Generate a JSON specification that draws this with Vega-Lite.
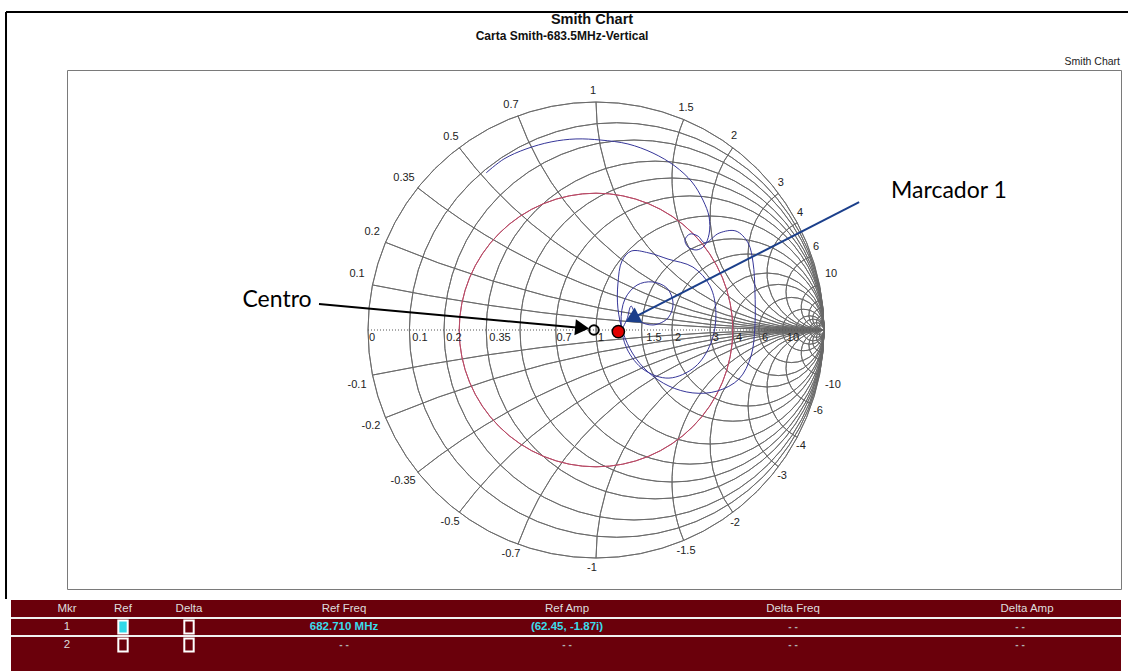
{
  "$schema": "https://vega.github.io/schema/vega-lite/v6.json",
  "autosize": {"type": "pad"},
  "padding": {"left": 4, "top": 10, "right": 0, "bottom": 0},
  "background": "white",
  "bounds": "flush",
  "spacing": 11,
  "config": {"font": "Liberation Sans"},
  "datasets": {
    "grid": [
      {"cx": 0, "cy": 0, "rad": 1, "t0": 0, "t1": 360},
      {"cx": 0.090909, "cy": 0, "rad": 0.909091, "t0": 0, "t1": 360},
      {"cx": 0.166667, "cy": 0, "rad": 0.833333, "t0": 0, "t1": 360},
      {"cx": 0.259259, "cy": 0, "rad": 0.740741, "t0": 0, "t1": 360},
      {"cx": 0.333333, "cy": 0, "rad": 0.666667, "t0": 0, "t1": 360},
      {"cx": 0.411765, "cy": 0, "rad": 0.588235, "t0": 0, "t1": 360},
      {"cx": 0.5, "cy": 0, "rad": 0.5, "t0": 0, "t1": 360},
      {"cx": 0.6, "cy": 0, "rad": 0.4, "t0": 0, "t1": 360},
      {"cx": 0.666667, "cy": 0, "rad": 0.333333, "t0": 0, "t1": 360},
      {"cx": 0.75, "cy": 0, "rad": 0.25, "t0": 0, "t1": 360},
      {"cx": 0.8, "cy": 0, "rad": 0.2, "t0": 0, "t1": 360},
      {"cx": 0.857143, "cy": 0, "rad": 0.142857, "t0": 0, "t1": 360},
      {"cx": 0.909091, "cy": 0, "rad": 0.090909, "t0": 0, "t1": 360},
      {"cx": 0.9375, "cy": 0, "rad": 0.0625, "t0": 0, "t1": 360},
      {"cx": 0.952381, "cy": 0, "rad": 0.047619, "t0": 0, "t1": 360},
      {"cx": 0.967742, "cy": 0, "rad": 0.032258, "t0": 0, "t1": 360},
      {"cx": 0.980392, "cy": 0, "rad": 0.019608, "t0": 0, "t1": 360},
      {"cx": 1, "cy": 10, "rad": 10, "t0": 180, "t1": 191.421},
      {"cx": 1, "cy": 5, "rad": 5, "t0": 180, "t1": 202.62},
      {"cx": 1, "cy": 2.857143, "rad": 2.857143, "t0": 180, "t1": 218.58},
      {"cx": 1, "cy": 2, "rad": 2, "t0": 180, "t1": 233.13},
      {"cx": 1, "cy": 1.428571, "rad": 1.428571, "t0": 180, "t1": 249.984},
      {"cx": 1, "cy": 1, "rad": 1, "t0": 180, "t1": 270},
      {"cx": 1, "cy": 0.666667, "rad": 0.666667, "t0": 180, "t1": 292.62},
      {"cx": 1, "cy": 0.5, "rad": 0.5, "t0": 180, "t1": 306.87},
      {"cx": 1, "cy": 0.333333, "rad": 0.333333, "t0": 180, "t1": 323.13},
      {"cx": 1, "cy": 0.25, "rad": 0.25, "t0": 180, "t1": 331.928},
      {"cx": 1, "cy": 0.166667, "rad": 0.166667, "t0": 180, "t1": 341.075},
      {"cx": 1, "cy": 0.1, "rad": 0.1, "t0": 180, "t1": 348.579},
      {"cx": 1, "cy": 0.066667, "rad": 0.066667, "t0": 180, "t1": 352.372},
      {"cx": 1, "cy": 0.05, "rad": 0.05, "t0": 180, "t1": 354.275},
      {"cx": 1, "cy": 0.033333, "rad": 0.033333, "t0": 180, "t1": 356.182},
      {"cx": 1, "cy": 0.02, "rad": 0.02, "t0": 180, "t1": 357.708},
      {"cx": 1, "cy": -10, "rad": 10, "t0": 348.579, "t1": 360},
      {"cx": 1, "cy": -5, "rad": 5, "t0": 337.38, "t1": 360},
      {"cx": 1, "cy": -2.857143, "rad": 2.857143, "t0": 321.42, "t1": 360},
      {"cx": 1, "cy": -2, "rad": 2, "t0": 306.87, "t1": 360},
      {"cx": 1, "cy": -1.428571, "rad": 1.428571, "t0": 290.016, "t1": 360},
      {"cx": 1, "cy": -1, "rad": 1, "t0": 270, "t1": 360},
      {"cx": 1, "cy": -0.666667, "rad": 0.666667, "t0": 247.38, "t1": 360},
      {"cx": 1, "cy": -0.5, "rad": 0.5, "t0": 233.13, "t1": 360},
      {"cx": 1, "cy": -0.333333, "rad": 0.333333, "t0": 216.87, "t1": 360},
      {"cx": 1, "cy": -0.25, "rad": 0.25, "t0": 208.072, "t1": 360},
      {"cx": 1, "cy": -0.166667, "rad": 0.166667, "t0": 198.925, "t1": 360},
      {"cx": 1, "cy": -0.1, "rad": 0.1, "t0": 191.421, "t1": 360},
      {"cx": 1, "cy": -0.066667, "rad": 0.066667, "t0": 187.628, "t1": 360},
      {"cx": 1, "cy": -0.05, "rad": 0.05, "t0": 185.725, "t1": 360},
      {"cx": 1, "cy": -0.033333, "rad": 0.033333, "t0": 183.818, "t1": 360},
      {"cx": 1, "cy": -0.02, "rad": 0.02, "t0": 182.292, "t1": 360}
    ],
    "vswr": [{"cx": 0, "cy": 0, "rad": 0.6, "t0": 0, "t1": 360}],
    "axisline": [{"x0": -1, "x1": 1, "y": 0}],
    "trace": [
      {"i": 1, "gx": -0.482, "gy": 0.689}, {"i": 2, "gx": -0.404, "gy": 0.75},
      {"i": 3, "gx": -0.307, "gy": 0.794}, {"i": 4, "gx": -0.197, "gy": 0.825},
      {"i": 5, "gx": -0.088, "gy": 0.838}, {"i": 6, "gx": 0.022, "gy": 0.833},
      {"i": 7, "gx": 0.14, "gy": 0.816}, {"i": 8, "gx": 0.25, "gy": 0.776},
      {"i": 9, "gx": 0.346, "gy": 0.719}, {"i": 10, "gx": 0.421, "gy": 0.649},
      {"i": 11, "gx": 0.469, "gy": 0.57}, {"i": 12, "gx": 0.496, "gy": 0.496},
      {"i": 13, "gx": 0.496, "gy": 0.421}, {"i": 14, "gx": 0.474, "gy": 0.368},
      {"i": 15, "gx": 0.439, "gy": 0.351}, {"i": 16, "gx": 0.404, "gy": 0.364},
      {"i": 17, "gx": 0.39, "gy": 0.395}, {"i": 18, "gx": 0.412, "gy": 0.421},
      {"i": 19, "gx": 0.447, "gy": 0.412}, {"i": 20, "gx": 0.478, "gy": 0.382},
      {"i": 21, "gx": 0.54, "gy": 0.425}, {"i": 22, "gx": 0.614, "gy": 0.434},
      {"i": 23, "gx": 0.667, "gy": 0.382}, {"i": 24, "gx": 0.689, "gy": 0.294},
      {"i": 25, "gx": 0.697, "gy": 0.171}, {"i": 26, "gx": 0.697, "gy": 0.018},
      {"i": 27, "gx": 0.68, "gy": -0.114}, {"i": 28, "gx": 0.627, "gy": -0.215},
      {"i": 29, "gx": 0.531, "gy": -0.268}, {"i": 30, "gx": 0.425, "gy": -0.276},
      {"i": 31, "gx": 0.32, "gy": -0.246}, {"i": 32, "gx": 0.228, "gy": -0.184},
      {"i": 33, "gx": 0.162, "gy": -0.105}, {"i": 34, "gx": 0.118, "gy": -0.009},
      {"i": 35, "gx": 0.096, "gy": 0.096}, {"i": 36, "gx": 0.096, "gy": 0.202},
      {"i": 37, "gx": 0.114, "gy": 0.303}, {"i": 38, "gx": 0.154, "gy": 0.346},
      {"i": 39, "gx": 0.232, "gy": 0.338}, {"i": 40, "gx": 0.316, "gy": 0.311},
      {"i": 41, "gx": 0.425, "gy": 0.276}, {"i": 42, "gx": 0.5, "gy": 0.193},
      {"i": 43, "gx": 0.526, "gy": 0.075}, {"i": 44, "gx": 0.504, "gy": -0.057},
      {"i": 45, "gx": 0.434, "gy": -0.162}, {"i": 46, "gx": 0.32, "gy": -0.211},
      {"i": 47, "gx": 0.211, "gy": -0.175}, {"i": 48, "gx": 0.136, "gy": -0.083},
      {"i": 49, "gx": 0.11, "gy": 0.031}, {"i": 50, "gx": 0.127, "gy": 0.136},
      {"i": 51, "gx": 0.18, "gy": 0.197}, {"i": 52, "gx": 0.246, "gy": 0.211},
      {"i": 53, "gx": 0.311, "gy": 0.184}, {"i": 54, "gx": 0.338, "gy": 0.118},
      {"i": 55, "gx": 0.316, "gy": 0.053}, {"i": 56, "gx": 0.25, "gy": 0.022},
      {"i": 57, "gx": 0.184, "gy": 0.044}, {"i": 58, "gx": 0.154, "gy": 0.105},
      {"i": 59, "gx": 0.136, "gy": 0.048}, {"i": 60, "gx": 0.11, "gy": -0.004}
    ],
    "ticks": [
      {"t": "1", "gx": -0.013, "gy": 1.048}, {"t": "0.7", "gx": -0.373, "gy": 0.987},
      {"t": "0.5", "gx": -0.636, "gy": 0.846}, {"t": "0.35", "gx": -0.842, "gy": 0.667},
      {"t": "0.2", "gx": -0.982, "gy": 0.43}, {"t": "0.1", "gx": -1.048, "gy": 0.246},
      {"t": "1.5", "gx": 0.395, "gy": 0.974}, {"t": "2", "gx": 0.605, "gy": 0.851},
      {"t": "3", "gx": 0.811, "gy": 0.645}, {"t": "4", "gx": 0.895, "gy": 0.513},
      {"t": "6", "gx": 0.965, "gy": 0.364}, {"t": "10", "gx": 1.031, "gy": 0.246},
      {"t": "-1", "gx": -0.018, "gy": -1.044}, {"t": "-0.7", "gx": -0.373, "gy": -0.982},
      {"t": "-0.5", "gx": -0.64, "gy": -0.842}, {"t": "-0.35", "gx": -0.846, "gy": -0.662},
      {"t": "-0.2", "gx": -0.987, "gy": -0.421}, {"t": "-0.1", "gx": -1.048, "gy": -0.241},
      {"t": "-1.5", "gx": 0.395, "gy": -0.969}, {"t": "-2", "gx": 0.61, "gy": -0.846},
      {"t": "-3", "gx": 0.816, "gy": -0.64}, {"t": "-4", "gx": 0.899, "gy": -0.509},
      {"t": "-6", "gx": 0.974, "gy": -0.355}, {"t": "-10", "gx": 1.039, "gy": -0.241},
      {"t": "0", "gx": -0.982, "gy": -0.035}, {"t": "0.1", "gx": -0.772, "gy": -0.035},
      {"t": "0.2", "gx": -0.623, "gy": -0.035}, {"t": "0.35", "gx": -0.421, "gy": -0.035},
      {"t": "0.7", "gx": -0.14, "gy": -0.035}, {"t": "1", "gx": 0.022, "gy": -0.035},
      {"t": "1.5", "gx": 0.254, "gy": -0.035}, {"t": "2", "gx": 0.36, "gy": -0.035},
      {"t": "3", "gx": 0.526, "gy": -0.035}, {"t": "4", "gx": 0.627, "gy": -0.035},
      {"t": "6", "gx": 0.741, "gy": -0.035}, {"t": "10", "gx": 0.864, "gy": -0.035}
    ],
    "texts": [
      {"t": "Smith Chart", "gx": -0.0175, "gy": 1.3596, "k": "title"},
      {"t": "Carta Smith-683.5MHz-Vertical", "gx": -0.149, "gy": 1.29, "k": "sub"},
      {"t": "Smith Chart", "gx": 2.2982, "gy": 1.1754, "k": "small"},
      {"t": "Centro", "gx": -1.399, "gy": 0.132, "k": "anno"},
      {"t": "Marcador 1", "gx": 1.548, "gy": 0.61, "k": "anno"}
    ],
    "arrows": [
      {"a": "c", "x0": -1.215, "y0": 0.114, "x1": -0.061, "y1": 0.009},
      {"a": "m", "x0": 1.154, "y0": 0.561, "x1": 0.158, "y1": 0.051}
    ],
    "markers": [
      {"m": "centro", "gx": -0.009, "gy": 0},
      {"m": "m1", "gx": 0.098, "gy": -0.007}
    ],
    "border": [
      {"x0": -2.5877, "x1": 2.4, "y0": 1.3947, "y1": 1.3947},
      {"x0": -2.5877, "x1": -2.5877, "y0": 1.3947, "y1": -1.1798}
    ],
    "tbg": [
      {"row": "h", "u0": 0, "u1": 1110}, {"row": "1", "u0": 0, "u1": 1110},
      {"row": "2", "u0": 0, "u1": 1110}, {"row": "3", "u0": 0, "u1": 1110}
    ],
    "tsep": [
      {"row": "1", "u0": 0, "u1": 1110}, {"row": "2", "u0": 0, "u1": 1110}
    ],
    "ttext": [
      {"row": "h", "u": 56, "t": "Mkr", "k": "h"}, {"row": "h", "u": 112, "t": "Ref", "k": "h"},
      {"row": "h", "u": 178, "t": "Delta", "k": "h"}, {"row": "h", "u": 333, "t": "Ref Freq", "k": "h"},
      {"row": "h", "u": 556, "t": "Ref Amp", "k": "h"}, {"row": "h", "u": 782, "t": "Delta Freq", "k": "h"},
      {"row": "h", "u": 1016, "t": "Delta Amp", "k": "h"},
      {"row": "1", "u": 56, "t": "1", "k": "n"}, {"row": "1", "u": 333, "t": "682.710 MHz", "k": "v"},
      {"row": "1", "u": 556, "t": "(62.45, -1.87i)", "k": "v"}, {"row": "1", "u": 782, "t": "- -", "k": "d"},
      {"row": "1", "u": 1009, "t": "- -", "k": "d"},
      {"row": "2", "u": 56, "t": "2", "k": "n"}, {"row": "2", "u": 333, "t": "- -", "k": "d"},
      {"row": "2", "u": 556, "t": "- -", "k": "d"}, {"row": "2", "u": 782, "t": "- -", "k": "d"},
      {"row": "2", "u": 1009, "t": "- -", "k": "d"}
    ],
    "tbox": [
      {"row": "1", "u": 112, "s": "on"}, {"row": "1", "u": 178, "s": "off"},
      {"row": "2", "u": 112, "s": "off"}, {"row": "2", "u": 178, "s": "off"}
    ]
  },
  "vconcat": [
    {
      "width": 1054,
      "height": 519,
      "view": {"stroke": "#7a7a7a", "strokeWidth": 1},
      "layer": [
        {
          "data": {"name": "grid"},
          "mark": {"type": "arc", "filled": false, "stroke": "#686868", "strokeWidth": 0.9},
          "encoding": {
            "x": {"field": "cx", "type": "quantitative", "scale": {"type": "linear", "domain": [-2.3202, 2.3026], "nice": false, "zero": false}, "axis": null},
            "y": {"field": "cy", "type": "quantitative", "scale": {"type": "linear", "domain": [-1.136, 1.1404], "nice": false, "zero": false}, "axis": null},
            "radius": {"field": "rad", "type": "quantitative", "scale": {"type": "linear", "domain": [0, 10], "range": [0, 2280], "zero": true}},
            "radius2": {"field": "rad"},
            "theta": {"field": "t0", "type": "quantitative", "scale": {"type": "linear", "domain": [0, 360], "range": [0, 6.283185307179586]}, "stack": null},
            "theta2": {"field": "t1"}
          }
        },
        {
          "data": {"name": "vswr"},
          "mark": {"type": "arc", "filled": false, "stroke": "#b84a66", "strokeWidth": 1},
          "encoding": {
            "x": {"field": "cx", "type": "quantitative", "scale": {"type": "linear", "domain": [-2.3202, 2.3026], "nice": false, "zero": false}, "axis": null},
            "y": {"field": "cy", "type": "quantitative", "scale": {"type": "linear", "domain": [-1.136, 1.1404], "nice": false, "zero": false}, "axis": null},
            "radius": {"field": "rad", "type": "quantitative", "scale": {"type": "linear", "domain": [0, 10], "range": [0, 2280], "zero": true}},
            "radius2": {"field": "rad"},
            "theta": {"field": "t0", "type": "quantitative", "scale": {"type": "linear", "domain": [0, 360], "range": [0, 6.283185307179586]}, "stack": null},
            "theta2": {"field": "t1"}
          }
        },
        {
          "data": {"name": "axisline"},
          "mark": {"type": "rule", "stroke": "#555555", "strokeWidth": 1, "strokeDash": [1, 2]},
          "encoding": {
            "x": {"field": "x0", "type": "quantitative", "axis": null},
            "x2": {"field": "x1"},
            "y": {"field": "y", "type": "quantitative", "axis": null}
          }
        },
        {
          "data": {"name": "trace"},
          "mark": {"type": "line", "stroke": "#363699", "strokeWidth": 1, "interpolate": "catmull-rom"},
          "encoding": {
            "x": {"field": "gx", "type": "quantitative", "axis": null},
            "y": {"field": "gy", "type": "quantitative", "axis": null},
            "order": {"field": "i", "type": "quantitative"}
          }
        },
        {
          "data": {"name": "ticks"},
          "mark": {"type": "text", "fontSize": 11, "color": "#222222", "align": "center", "baseline": "middle", "font": "Liberation Sans"},
          "encoding": {
            "x": {"field": "gx", "type": "quantitative", "axis": null},
            "y": {"field": "gy", "type": "quantitative", "axis": null},
            "text": {"field": "t"}
          }
        },
        {
          "data": {"name": "arrows"},
          "mark": {"type": "rule", "strokeWidth": 2},
          "encoding": {
            "x": {"field": "x0", "type": "quantitative", "axis": null},
            "y": {"field": "y0", "type": "quantitative", "axis": null},
            "x2": {"field": "x1"},
            "y2": {"field": "y1"},
            "color": {"field": "a", "type": "nominal", "scale": {"domain": ["c", "m"], "range": ["#000000", "#1b3f8b"]}, "legend": null}
          }
        },
        {
          "data": {"name": "arrows"},
          "transform": [{"filter": "datum.a == 'c'"}],
          "mark": {"type": "point", "shape": "triangle-right", "angle": 5.3, "size": 260, "filled": true, "color": "#000000", "opacity": 1},
          "encoding": {
            "x": {"field": "x1", "type": "quantitative", "axis": null},
            "y": {"field": "y1", "type": "quantitative", "axis": null}
          }
        },
        {
          "data": {"name": "arrows"},
          "transform": [{"filter": "datum.a == 'm'"}],
          "mark": {"type": "point", "shape": "triangle-right", "angle": 152.9, "size": 280, "filled": true, "color": "#1b3f8b", "opacity": 1},
          "encoding": {
            "x": {"field": "x1", "type": "quantitative", "axis": null},
            "y": {"field": "y1", "type": "quantitative", "axis": null}
          }
        },
        {
          "data": {"name": "markers"},
          "transform": [{"filter": "datum.m == 'centro'"}],
          "mark": {"type": "point", "shape": "circle", "size": 90, "filled": false, "stroke": "#000000", "strokeWidth": 2, "opacity": 1},
          "encoding": {
            "x": {"field": "gx", "type": "quantitative", "axis": null},
            "y": {"field": "gy", "type": "quantitative", "axis": null}
          }
        },
        {
          "data": {"name": "markers"},
          "transform": [{"filter": "datum.m == 'm1'"}],
          "mark": {"type": "point", "shape": "circle", "size": 150, "filled": true, "fill": "#e00000", "stroke": "#000000", "strokeWidth": 1.5, "opacity": 1},
          "encoding": {
            "x": {"field": "gx", "type": "quantitative", "axis": null},
            "y": {"field": "gy", "type": "quantitative", "axis": null}
          }
        },
        {
          "data": {"name": "texts"},
          "transform": [{"filter": "datum.k == 'title'"}],
          "mark": {"type": "text", "fontSize": 14.5, "fontWeight": "bold", "color": "#111111", "align": "center", "baseline": "middle"},
          "encoding": {
            "x": {"field": "gx", "type": "quantitative", "axis": null},
            "y": {"field": "gy", "type": "quantitative", "axis": null},
            "text": {"field": "t"}
          }
        },
        {
          "data": {"name": "texts"},
          "transform": [{"filter": "datum.k == 'sub'"}],
          "mark": {"type": "text", "fontSize": 12, "fontWeight": "bold", "color": "#111111", "align": "center", "baseline": "middle"},
          "encoding": {
            "x": {"field": "gx", "type": "quantitative", "axis": null},
            "y": {"field": "gy", "type": "quantitative", "axis": null},
            "text": {"field": "t"}
          }
        },
        {
          "data": {"name": "texts"},
          "transform": [{"filter": "datum.k == 'small'"}],
          "mark": {"type": "text", "fontSize": 10.5, "color": "#222222", "align": "right", "baseline": "middle"},
          "encoding": {
            "x": {"field": "gx", "type": "quantitative", "axis": null},
            "y": {"field": "gy", "type": "quantitative", "axis": null},
            "text": {"field": "t"}
          }
        },
        {
          "data": {"name": "texts"},
          "transform": [{"filter": "datum.k == 'anno'"}],
          "mark": {"type": "text", "fontSize": 23, "font": "Lato", "color": "#000000", "align": "center", "baseline": "middle"},
          "encoding": {
            "x": {"field": "gx", "type": "quantitative", "axis": null},
            "y": {"field": "gy", "type": "quantitative", "axis": null},
            "text": {"field": "t"}
          }
        },
        {
          "data": {"name": "border"},
          "mark": {"type": "rule", "stroke": "#000000", "strokeWidth": 2},
          "encoding": {
            "x": {"field": "x0", "type": "quantitative", "axis": null},
            "y": {"field": "y0", "type": "quantitative", "axis": null},
            "x2": {"field": "x1"},
            "y2": {"field": "y1"}
          }
        }
      ]
    },
    {
      "width": 1054,
      "height": 72,
      "view": {"stroke": null},
      "layer": [
        {
          "data": {"name": "tbg"},
          "mark": {"type": "rect", "color": "#6a000b", "opacity": 1},
          "encoding": {
            "x": {"field": "u0", "type": "quantitative", "scale": {"type": "linear", "domain": [56, 1110], "nice": false, "zero": false}, "axis": null},
            "x2": {"field": "u1"},
            "y": {"field": "row", "type": "ordinal", "scale": {"domain": ["h", "1", "2", "3"], "paddingInner": 0, "paddingOuter": 0}, "axis": null}
          }
        },
        {
          "data": {"name": "tsep"},
          "mark": {"type": "rule", "stroke": "#f0f0f0", "strokeWidth": 2},
          "encoding": {
            "x": {"field": "u0", "type": "quantitative", "axis": null},
            "x2": {"field": "u1"},
            "y": {"field": "row", "type": "ordinal", "bandPosition": 0, "axis": null}
          }
        },
        {
          "data": {"name": "tbox"},
          "mark": {"type": "point", "shape": "M-0.72,-1L0.72,-1L0.72,1L-0.72,1Z", "size": 170, "filled": true, "stroke": "#ffffff", "strokeWidth": 2, "opacity": 1},
          "encoding": {
            "x": {"field": "u", "type": "quantitative", "axis": null},
            "y": {"field": "row", "type": "ordinal", "axis": null},
            "fill": {"field": "s", "type": "nominal", "scale": {"domain": ["on", "off"], "range": ["#2fd8e8", "#6a000b"]}, "legend": null}
          }
        },
        {
          "data": {"name": "ttext"},
          "transform": [{"filter": "datum.k == 'h' || datum.k == 'n'"}],
          "mark": {"type": "text", "fontSize": 11.5, "color": "#dddddd", "align": "center", "baseline": "middle"},
          "encoding": {
            "x": {"field": "u", "type": "quantitative", "axis": null},
            "y": {"field": "row", "type": "ordinal", "axis": null},
            "text": {"field": "t"}
          }
        },
        {
          "data": {"name": "ttext"},
          "transform": [{"filter": "datum.k == 'v'"}],
          "mark": {"type": "text", "fontSize": 11.5, "fontWeight": "bold", "color": "#3adcec", "align": "center", "baseline": "middle"},
          "encoding": {
            "x": {"field": "u", "type": "quantitative", "axis": null},
            "y": {"field": "row", "type": "ordinal", "axis": null},
            "text": {"field": "t"}
          }
        },
        {
          "data": {"name": "ttext"},
          "transform": [{"filter": "datum.k == 'd'"}],
          "mark": {"type": "text", "fontSize": 10, "fontWeight": "bold", "color": "#b0b0b0", "align": "center", "baseline": "middle"},
          "encoding": {
            "x": {"field": "u", "type": "quantitative", "axis": null},
            "y": {"field": "row", "type": "ordinal", "axis": null},
            "text": {"field": "t"}
          }
        }
      ]
    }
  ]
}
